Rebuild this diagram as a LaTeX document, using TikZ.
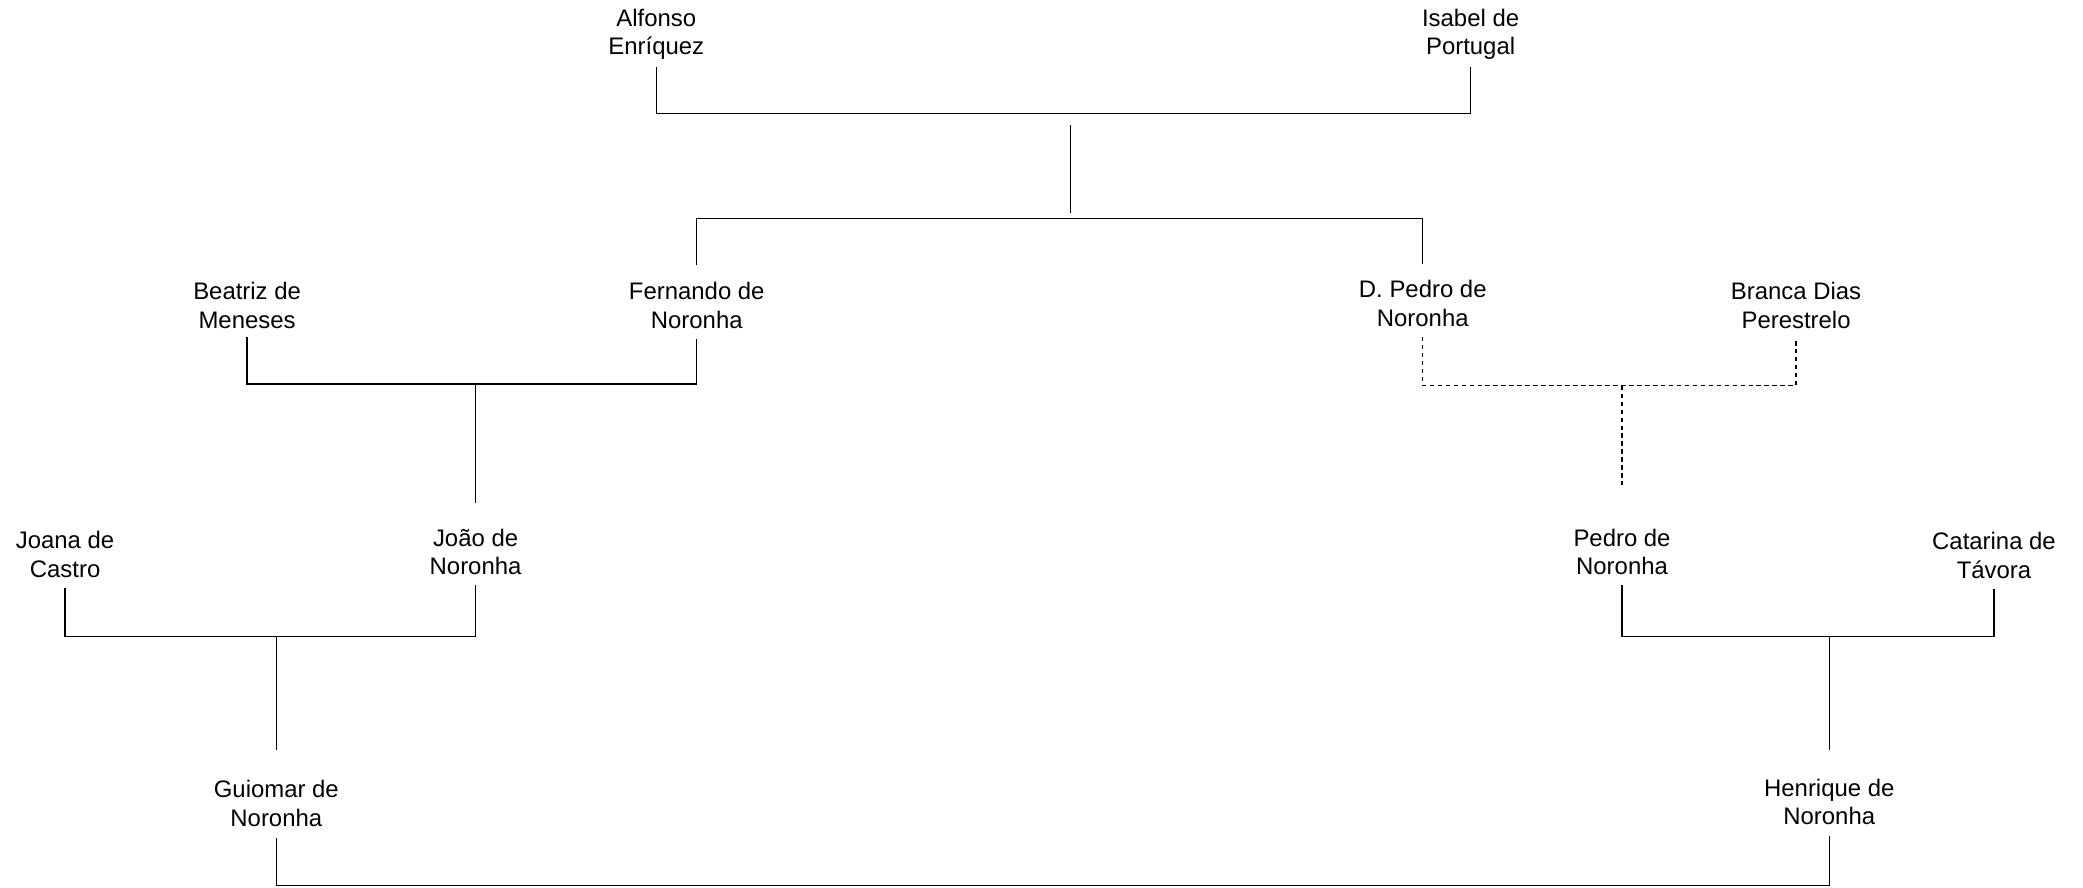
\documentclass[tikz,border=0pt]{standalone}
\usepackage{fontspec}
\setmainfont{Liberation Sans}
\begin{document}
\begin{tikzpicture}[x=1pt,y=-1pt,
  person/.style={font=\fontsize{18}{21.5}\selectfont, align=center, inner sep=0pt, anchor=south, text depth=0pt},
  link/.style={line width=0.9pt, black},
  dlink/.style={line width=0.9pt, black, dash pattern=on 3.5pt off 2.5pt}]
\useasboundingbox (0,0) rectangle (1568,668);
% people
\node[person] (alf) at (494,41.4) {Alfonso\\Enríquez};
\node[person] (isa) at (1107,41.4) {Isabel de\\Portugal};
\node[person] (bea) at (186,247.2) {Beatriz de\\Meneses};
\node[person] (fer) at (524.5,247.2) {Fernando de\\Noronha};
\node[person] (dpe) at (1071,246) {D. Pedro de\\Noronha};
\node[person] (bra) at (1352,247.2) {Branca Dias\\Perestrelo};
\node[person] (joa) at (49,434.6) {Joana de\\Castro};
\node[person] (jao) at (358,433) {João de\\Noronha};
\node[person] (ped) at (1221,433) {Pedro de\\Noronha};
\node[person] (cat) at (1501,435.4) {Catarina de\\Távora};
\node[person] (gui) at (208,622.3) {Guiomar de\\Noronha};
\node[person] (hen) at (1377,621) {Henrique de\\Noronha};
% junction coordinates
\coordinate (m1) at (806,85.3);
\coordinate (c1a) at (806,94);
\coordinate (c1b) at (806,160);
\coordinate (s1) at (806,164.3);
\coordinate (m2) at (358,289.1);
\coordinate (c2) at (358,378.5);
\coordinate (m3) at (1221,290.3);
\coordinate (c3) at (1221,365);
\coordinate (m4) at (208,479);
\coordinate (c4) at (208,564.6);
\coordinate (m5) at (1377,479.3);
\coordinate (c5) at (1377,564.6);
\coordinate (m6) at (800,666.7);
% connectors
\draw[link] ([yshift=-8.8pt]alf.south) |- (m1) -| ([yshift=-8.8pt]isa.south);
\draw[link] (c1a) -- (c1b);
\draw[link] ([yshift=13pt]fer.north) |- (s1) -| ([yshift=12pt]dpe.north);
\draw[link] ([yshift=-6.5pt]bea.south) |- (m2) -| ([yshift=-8pt]fer.south);
\draw[link] (m2) -- (c2);
\draw[dlink] ([yshift=-7.5pt]dpe.south) |- (m3) -| ([yshift=-7.5pt]bra.south);
\draw[dlink] (m3) -- (c3);
\draw[link] ([yshift=-8pt]joa.south) |- (m4) -| ([yshift=-7.5pt]jao.south);
\draw[link] (m4) -- (c4);
\draw[link] ([yshift=-7.5pt]ped.south) |- (m5) -| ([yshift=-8pt]cat.south);
\draw[link] (m5) -- (c5);
\draw[link] ([yshift=-8.7pt]gui.south) |- (m6) -| ([yshift=-8pt]hen.south);
\end{tikzpicture}
\end{document}
